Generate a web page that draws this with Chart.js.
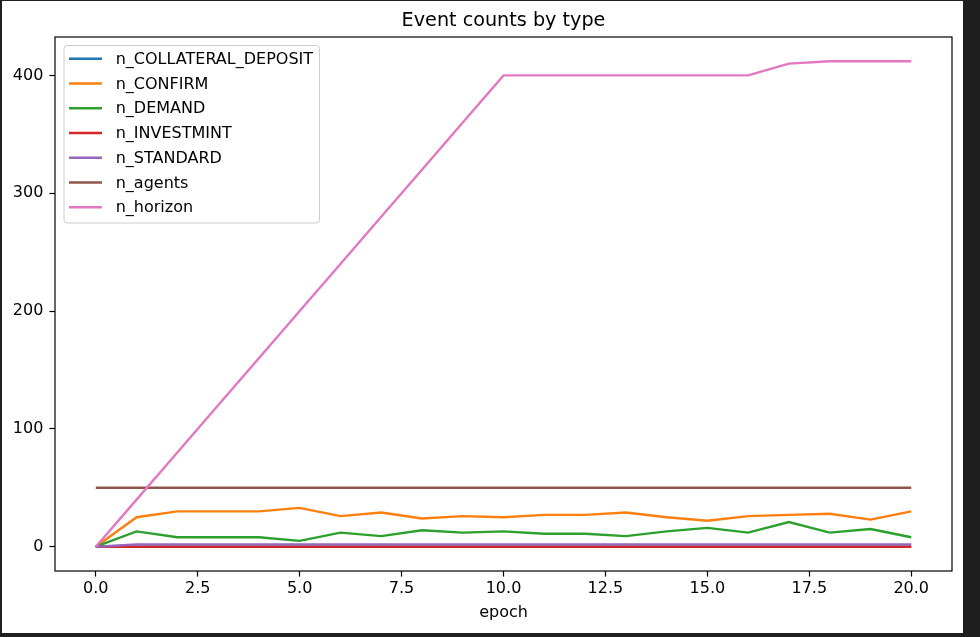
<!DOCTYPE html>
<html>
<head>
<meta charset="utf-8">
<script src="https://cdn.jsdelivr.net/npm/chart.js@4.4.1/dist/chart.umd.min.js"></script>
<style>
  html, body { margin: 0; padding: 0; background: #1f1f1f; }
  #wrap { position: absolute; left: 2px; top: 1px; width: 961px; height: 632px; background: #fff; }
  canvas { display: block; }
</style>
</head>
<body>
<div id="wrap"><canvas id="eventChart" width="961" height="632"></canvas></div>
<script>
const epochs = [0, 1, 2, 3, 4, 5, 6, 7, 8, 9, 10, 11, 12, 13, 14, 15, 16, 17, 18, 19, 20];
const nCollateralDeposit = [0, 0, 0, 0, 0, 0, 0, 0, 0, 0, 0, 0, 0, 0, 0, 0, 0, 0, 0, 0, 0];
const nConfirm = [0, 25, 30, 30, 30, 33, 26, 29, 24, 26, 25, 27, 27, 29, 25, 22, 26, 27, 28, 23, 30];
const nDemand = [0, 13, 8, 8, 8, 5, 12, 9, 14, 12, 13, 11, 11, 9, 13, 16, 12, 21, 12, 15, 8];
const nInvestmint = [0, 0, 0, 0, 0, 0, 0, 0, 0, 0, 0, 0, 0, 0, 0, 0, 0, 0, 0, 0, 0];
const nStandard = [0, 2, 2, 2, 2, 2, 2, 2, 2, 2, 2, 2, 2, 2, 2, 2, 2, 2, 2, 2, 2];
const nAgents = [50, 50, 50, 50, 50, 50, 50, 50, 50, 50, 50, 50, 50, 50, 50, 50, 50, 50, 50, 50, 50];
const nHorizon = [0, 40, 80, 120, 160, 200, 240, 280, 320, 360, 400, 400, 400, 400, 400, 400, 400, 410, 412, 412, 412];

const seriesNames = ['n_COLLATERAL_DEPOSIT', 'n_CONFIRM', 'n_DEMAND', 'n_INVESTMINT', 'n_STANDARD', 'n_agents', 'n_horizon'];
const seriesColors = ['#1f77b4', '#ff7f0e', '#2ca02c', '#d62728', '#9467bd', '#8c564b', '#e377c2'];
const xTicks = [0, 2.5, 5, 7.5, 10, 12.5, 15, 17.5, 20];
const yTicks = [0, 100, 200, 300, 400];

const FONT = "'DejaVu Sans', sans-serif";
const allSeries = [nCollateralDeposit, nConfirm, nDemand, nInvestmint, nStandard, nAgents, nHorizon];

const datasets = allSeries.map((vals, i) => ({
  label: seriesNames[i],
  data: epochs.map((e, j) => ({ x: e, y: vals[j] })),
  borderColor: seriesColors[i],
  backgroundColor: seriesColors[i],
  borderWidth: 2.4,
  pointRadius: 0,
  tension: 0,
  fill: false,
  order: allSeries.length - 1 - i   // later series on top, like matplotlib
}));

// axes frame + legend box drawn inside the plot
const framePlugin = {
  id: 'frame',
  afterDatasetsDraw(chart) {
    const { ctx, chartArea: a } = chart;
    ctx.save();
    ctx.strokeStyle = '#000';
    ctx.lineWidth = 1.2;
    ctx.strokeRect(a.left, a.top, a.right - a.left, a.bottom - a.top);

    // legend
    ctx.font = '16px ' + FONT;
    let maxW = 0;
    seriesNames.forEach(n => { maxW = Math.max(maxW, ctx.measureText(n).width); });
    const bx = a.left + 9, by = a.top + 8.5;
    const textX = bx + 51.7;
    const bw = textX - bx + maxW + 6.5, bh = 177.5;
    const r = 3;
    ctx.beginPath();
    ctx.moveTo(bx + r, by);
    ctx.lineTo(bx + bw - r, by);
    ctx.arcTo(bx + bw, by, bx + bw, by + r, r);
    ctx.lineTo(bx + bw, by + bh - r);
    ctx.arcTo(bx + bw, by + bh, bx + bw - r, by + bh, r);
    ctx.lineTo(bx + r, by + bh);
    ctx.arcTo(bx, by + bh, bx, by + bh - r, r);
    ctx.lineTo(bx, by + r);
    ctx.arcTo(bx, by, bx + r, by, r);
    ctx.closePath();
    ctx.fillStyle = 'rgba(255,255,255,0.8)';
    ctx.fill();
    ctx.strokeStyle = '#cccccc';
    ctx.lineWidth = 1;
    ctx.stroke();

    ctx.textBaseline = 'middle';
    ctx.textAlign = 'left';
    seriesNames.forEach((n, i) => {
      const y = by + 13.2 + i * 24.75;
      ctx.strokeStyle = seriesColors[i];
      ctx.lineWidth = 2.4;
      ctx.beginPath();
      ctx.moveTo(bx + 5, y);
      ctx.lineTo(bx + 38, y);
      ctx.stroke();
      ctx.fillStyle = '#000';
      ctx.fillText(n, textX, y + 1);
    });
    ctx.restore();
  }
};

new Chart(document.getElementById('eventChart'), {
  type: 'line',
  data: { datasets },
  options: {
    responsive: false,
    animation: false,
    devicePixelRatio: 1,
    layout: { padding: { left: 0, right: 11, top: 0, bottom: 0 } },
    plugins: {
      legend: { display: false },
      tooltip: { enabled: false },
      title: {
        display: true,
        text: 'Event counts by type',
        color: '#000',
        fullSize: false,
        font: { family: FONT, size: 19.2, weight: 'normal', lineHeight: '22px' },
        padding: { top: 9, bottom: 5 }
      }
    },
    scales: {
      x: {
        type: 'linear',
        min: -1,
        max: 21,
        afterBuildTicks: s => { s.ticks = xTicks.map(v => ({ value: v })); },
        afterFit: s => { s.height = 62; },
        grid: { drawOnChartArea: false, drawTicks: true, tickLength: 5.6, tickColor: '#000', tickWidth: 1.2 },
        border: { display: false },
        ticks: {
          color: '#000',
          padding: 3,
          maxRotation: 0,
          font: { family: FONT, size: 16 },
          callback: v => Number(v).toFixed(1)
        },
        title: {
          display: true,
          text: 'epoch',
          color: '#000',
          font: { family: FONT, size: 16 },
          padding: { top: 0, bottom: 11 }
        }
      },
      y: {
        type: 'linear',
        min: -20.6,
        max: 432.6,
        afterBuildTicks: s => { s.ticks = yTicks.map(v => ({ value: v })); },
        afterFit: s => { s.width = 53; },
        grid: { drawOnChartArea: false, drawTicks: true, tickLength: 5.6, tickColor: '#000', tickWidth: 1.2 },
        border: { display: false },
        ticks: {
          color: '#000',
          padding: 6,
          font: { family: FONT, size: 16 },
          callback: v => String(v)
        }
      }
    }
  },
  plugins: [framePlugin]
});
</script>
</body>
</html>
